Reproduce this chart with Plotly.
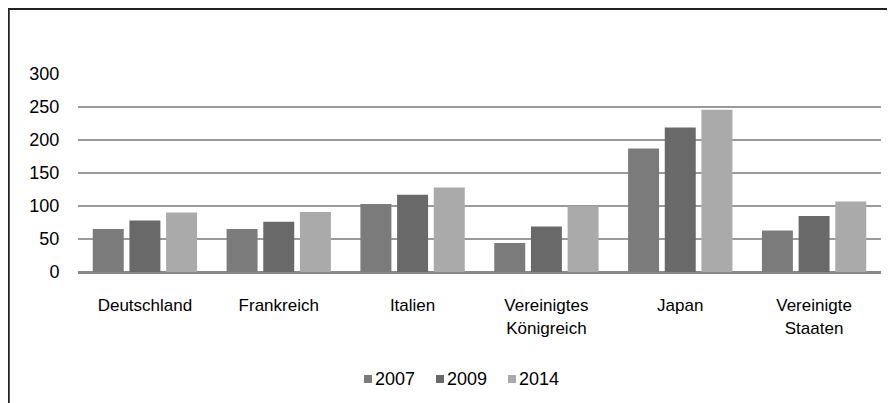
import plotly.graph_objects as go

categories = ["Deutschland", "Frankreich", "Italien", "Vereinigtes<br>Königreich", "Japan", "Vereinigte<br>Staaten"]
years = ["2007", "2009", "2014"]
values_2007 = [65, 65, 103, 44, 187, 63]
values_2009 = [78, 76, 117, 69, 219, 85]
values_2014 = [90, 91, 128, 100, 246, 107]
colors = ["#7b7b7b", "#696969", "#aaaaaa"]
y_ticks = [0, 50, 100, 150, 200, 250, 300]

# page body has an 8px margin; figure coordinates = screen - 8
W, H = 887, 395
L, R, T, B = 70, 14, 66, 131

fig = go.Figure()
for name, vals, col in zip(years, [values_2007, values_2009, values_2014], colors):
    fig.add_trace(go.Bar(x=categories, y=vals, name=name, showlegend=False,
                         marker=dict(color=col, line=dict(width=0))))

pw = W - L - R
ph = H - T - B
fx = lambda px: (px - L) / pw
fy = lambda py: (H - B - py) / ph

# manual legend (swatch + label), positions in figure pixels
legend_text_x = [367, 439, 511]
legend_y = 371
shapes = [
    dict(type="line", xref="paper", yref="paper", x0=fx(0.5), x1=fx(0.5), y0=fy(420), y1=fy(0), line=dict(color="#222222", width=2.5)),
    dict(type="line", xref="paper", yref="paper", x0=fx(0), x1=fx(920), y0=fy(0.7), y1=fy(0.7), line=dict(color="#222222", width=2.5)),
]
annotations = []
for name, col, tx in zip(years, colors, legend_text_x):
    shapes.append(dict(type="rect", xref="paper", yref="paper", x0=fx(tx - 11), x1=fx(tx - 3),
                       y0=fy(legend_y + 4), y1=fy(legend_y - 4), fillcolor=col, line=dict(width=0)))
    annotations.append(dict(xref="paper", yref="paper", x=fx(tx - 2), y=fy(legend_y), xanchor="left", yanchor="middle",
                            text=name, showarrow=False, font=dict(size=18, color="black")))

fig.update_layout(
    width=W, height=H,
    margin=dict(l=L, r=R, t=T, b=B),
    paper_bgcolor="white", plot_bgcolor="white",
    font=dict(family="Liberation Sans, Arial", size=18, color="black"),
    barmode="group", bargap=0.178, bargroupgap=0.155,
    showlegend=False,
    xaxis=dict(showgrid=False, showline=False, ticks="outside", ticklen=18, tickcolor="rgba(0,0,0,0)",
               tickfont=dict(size=17), fixedrange=True),
    yaxis=dict(range=[0, 300], tickvals=y_ticks, showgrid=True, gridcolor="#9a9a9a", gridwidth=1.5,
               zeroline=True, zerolinecolor="#888888", zerolinewidth=2.5, showline=False,
               ticks="outside", ticklen=14, tickcolor="rgba(0,0,0,0)", tickfont=dict(size=18), fixedrange=True),
    shapes=shapes,
    annotations=annotations,
)
fig.write_html("out.html")
